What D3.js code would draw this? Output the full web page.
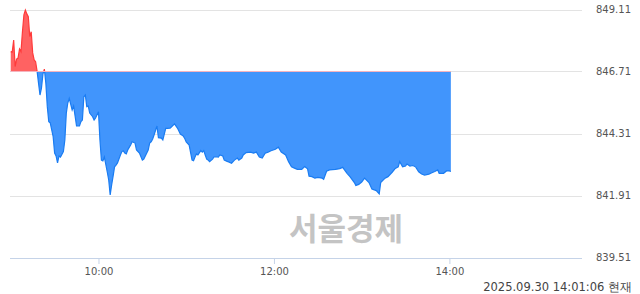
<!DOCTYPE html>
<html>
<head>
<meta charset="utf-8">
<script src="https://cdn.jsdelivr.net/npm/d3@7"></script>
<style>
  body { margin: 0; background: #fff; }
  svg { display: block; }
</style>
</head>
<body>
<div id="chart"></div>
<script>
"use strict";

// intraday index, 2025-09-30
const times = ["09:00","09:01","09:02","09:03","09:04","09:05","09:06","09:07","09:08","09:09",
  "09:10","09:11","09:12","09:13","09:14","09:15","09:16","09:17","09:18","09:19",
  "09:20","09:21","09:22","09:23","09:24","09:25","09:26","09:27","09:29","09:30",
  "09:31","09:32","09:33","09:34","09:36","09:37","09:38","09:39","09:40","09:42",
  "09:43","09:44","09:45","09:47","09:48","09:49","09:50","09:51","09:52","09:53",
  "09:54","09:56","09:57","09:58","10:00","10:01","10:02","10:03","10:04","10:06",
  "10:07","10:08","10:09","10:10","10:11","10:12","10:13","10:15","10:16","10:17",
  "10:18","10:19","10:20","10:22","10:23","10:25","10:26","10:28","10:30","10:31",
  "10:34","10:35","10:36","10:37","10:38","10:40","10:41","10:43","10:44","10:46",
  "10:47","10:49","10:50","10:52","10:54","10:56","10:58","10:59","11:00","11:02",
  "11:04","11:05","11:06","11:07","11:08","11:10","11:11","11:12","11:13","11:14",
  "11:15","11:16","11:18","11:19","11:20","11:22","11:23","11:25","11:26","11:28",
  "11:29","11:31","11:33","11:35","11:36","11:38","11:39","11:41","11:44","11:46",
  "11:48","11:50","11:52","11:54","11:56","11:58","12:01","12:03","12:05","12:08",
  "12:10","12:12","12:14","12:16","12:19","12:21","12:23","12:24","12:26","12:28",
  "12:30","12:33","12:34","12:36","12:38","12:42","12:45","12:47","12:50","12:52",
  "12:55","12:56","12:58","13:00","13:02","13:05","13:07","13:10","13:12","13:13",
  "13:16","13:18","13:21","13:23","13:25","13:26","13:28","13:30","13:31","13:33",
  "13:35","13:37","13:39","13:41","13:43","13:46","13:48","13:50","13:52","13:53",
  "13:56","13:58","14:00","14:01"];

const values = [847.48,847.46,847.93,846.90,847.19,847.23,847.58,847.48,848.25,848.90,
  849.09,848.94,848.83,848.06,848.25,847.43,847.16,847.09,846.73,846.26,
  845.80,846.07,846.61,846.80,846.26,845.35,844.77,844.72,844.19,843.55,
  843.44,843.17,843.44,843.40,843.61,844.06,845.10,845.49,845.67,845.22,
  845.37,844.99,844.60,844.60,844.77,844.83,845.73,845.80,845.35,845.37,
  845.10,844.96,844.83,844.91,845.15,844.06,843.28,843.25,843.40,842.82,
  842.51,841.93,842.32,842.66,843.02,843.09,843.17,843.48,843.61,843.64,
  843.55,843.52,843.67,843.87,843.99,843.94,843.67,843.55,843.28,843.32,
  843.67,843.94,843.99,844.09,844.25,844.60,844.15,844.13,844.06,844.51,
  844.51,844.52,844.57,844.68,844.52,844.29,844.21,844.12,843.98,843.86,
  843.28,843.26,843.40,843.52,843.48,843.65,843.59,843.65,843.48,843.32,
  843.28,843.22,843.32,843.40,843.41,843.40,843.48,843.44,843.28,843.23,
  843.21,843.16,843.28,843.36,843.28,843.36,843.48,843.57,843.59,843.55,
  843.59,843.40,843.36,843.55,843.59,843.64,843.70,843.78,843.59,843.48,
  843.22,843.02,842.97,842.92,842.92,843.03,842.94,842.66,842.64,842.58,
  842.61,842.58,842.54,842.85,842.90,842.92,842.95,843.00,842.77,842.64,
  842.41,842.30,842.34,842.43,842.58,842.41,842.16,842.10,841.97,842.41,
  842.58,842.64,842.82,842.96,843.02,843.22,843.02,843.05,843.13,843.05,
  843.07,843.01,842.83,842.74,842.70,842.74,842.79,842.84,842.90,842.77,
  842.77,842.86,842.86,842.84];

const prevClose = 846.71;
const yTicks = [849.11, 846.71, 844.31, 841.91, 839.51];
const xTicks = ["10:00", "12:00", "14:00"];
const sessionStart = "09:00";
const sessionEnd = "15:30";
const day = "2025-09-30";
const stampText = "2025.09.30 14:01:06 현재";
const watermark = "서울경제";

const msm = {
  width: 640,
  height: 294,
  left: 10.75,
  right: 581,
  top: 9.5,
  bottom: 257.5
};

const parseTime = d3.timeParse("%Y-%m-%d %H:%M");
const toDate = (t) => parseTime(day + " " + t);

const data = times.map((t, i) => ({ t: toDate(t), v: values[i] }));

const svg = d3.select("#chart").append("svg")
  .attr("width", msm.width)
  .attr("height", msm.height);

const xScale = d3.scaleTime()
  .domain([toDate(sessionStart), toDate(sessionEnd)])
  .range([msm.left, msm.right]);

const yScale = d3.scaleLinear()
  .domain([yTicks[yTicks.length - 1], yTicks[0]])
  .range([msm.bottom, msm.top]);

const labelFont = "'DejaVu Sans', Tahoma, sans-serif";

// horizontal grid lines
svg.append("g")
  .selectAll("line")
  .data(yTicks.slice(0, -1))
  .enter()
  .append("line")
  .attr("x1", 10)
  .attr("x2", 582)
  .attr("y1", (d) => Math.round(yScale(d)) + 0.5)
  .attr("y2", (d) => Math.round(yScale(d)) + 0.5)
  .attr("stroke", "#e3e3e3")
  .attr("stroke-width", 1);

// y labels on the right
svg.append("g")
  .selectAll("text")
  .data(yTicks)
  .enter()
  .append("text")
  .attr("x", 596)
  .attr("y", (d) => yScale(d))
  .attr("dominant-baseline", "central")
  .style("font-family", labelFont)
  .style("font-size", "10px")
  .attr("fill", "#555")
  .text((d) => d.toFixed(2));

// watermark
svg.append("text")
  .attr("x", 346)
  .attr("y", 226)
  .attr("text-anchor", "middle")
  .attr("dominant-baseline", "central")
  .style("font-family", "'Noto Sans CJK KR', sans-serif")
  .style("font-weight", "bold")
  .style("font-size", "31px")
  .attr("fill", "#c4c4c4")
  .text(watermark);

// clip regions: above / below previous close
const baseY = yScale(prevClose);
const defs = svg.append("defs");
defs.append("clipPath").attr("id", "clipUp")
  .append("rect")
  .attr("x", 0).attr("y", 0)
  .attr("width", msm.width).attr("height", baseY);
defs.append("clipPath").attr("id", "clipDown")
  .append("rect")
  .attr("x", 0).attr("y", baseY)
  .attr("width", msm.width).attr("height", msm.height - baseY);

const area = d3.area()
  .x((d) => xScale(d.t))
  .y0(baseY)
  .y1((d) => yScale(d.v));

const line = d3.line()
  .x((d) => xScale(d.t))
  .y((d) => yScale(d.v));

const sides = [
  { clip: "clipUp", fill: "#ff6262", stroke: "#ff3a3a" },
  { clip: "clipDown", fill: "#4195fc", stroke: "#1a7cf2" }
];

sides.forEach((s) => {
  const g = svg.append("g").attr("clip-path", "url(#" + s.clip + ")");
  g.append("path")
    .datum(data)
    .attr("fill", s.fill)
    .attr("d", area);
  g.append("path")
    .datum(data)
    .attr("fill", "none")
    .attr("stroke", s.stroke)
    .attr("stroke-width", 1.2)
    .attr("d", line);
});

// previous close reference line
svg.append("line")
  .attr("x1", xScale(data[0].t))
  .attr("x2", xScale(data[data.length - 1].t))
  .attr("y1", baseY)
  .attr("y2", baseY)
  .attr("stroke", "#f5b4bf")
  .attr("stroke-width", 1);

// bottom axis
const xAxis = d3.axisBottom(xScale)
  .tickValues(xTicks.map(toDate))
  .tickFormat(d3.timeFormat("%H:%M"))
  .tickSizeInner(6)
  .tickSizeOuter(0)
  .tickPadding(4);

const axisG = svg.append("g")
  .attr("transform", "translate(0," + (msm.bottom + 0.5) + ")")
  .call(xAxis);
axisG.select(".domain")
  .attr("stroke", "#c5d3e8")
  .attr("d", "M10,0.5H582");
axisG.selectAll(".tick line").attr("stroke", "#c5d3e8");
axisG.selectAll(".tick text")
  .style("font-family", labelFont)
  .style("font-size", "10px")
  .attr("fill", "#555");

// timestamp
svg.append("text")
  .attr("x", 632)
  .attr("y", 287)
  .attr("text-anchor", "end")
  .attr("dominant-baseline", "central")
  .style("font-family", labelFont)
  .style("font-size", "11.5px")
  .attr("fill", "#444")
  .text(stampText);
</script>
</body>
</html>
